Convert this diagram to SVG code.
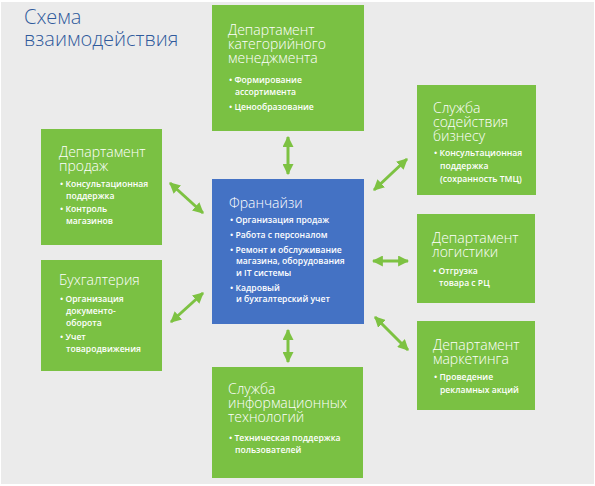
<svg xmlns="http://www.w3.org/2000/svg" width="595" height="486" viewBox="0 0 595 486">
  <defs>
    <marker id="ah" viewBox="0 0 10 10" refX="9" refY="5" markerWidth="11" markerHeight="11" markerUnits="userSpaceOnUse" orient="auto-start-reverse">
      <path d="M0,0 L10,5 L0,10 z" fill="#7dc242"/>
    </marker>
    <style>
      .g { fill: #7ac143; }
      .b { fill: #4472c4; }
      .h { font-family: "Open Sans", "Noto Sans", sans-serif; font-size: 14px; font-weight: 300; fill: #ffffff; }
      .t { font-family: "Open Sans", "Noto Sans", sans-serif; font-size: 8.6px; font-weight: 600; fill: #ffffff; }
      .title { font-family: "Open Sans", "Noto Sans", sans-serif; font-size: 20px; font-weight: 300; fill: #2f5a9c; }
      .c line { stroke: #7dc242; stroke-width: 3; marker-start: url(#ah); marker-end: url(#ah); }
    </style>
  </defs>
  <rect x="0" y="0" width="595" height="486" fill="#ffffff"/>
  <rect x="1" y="2" width="593" height="482" fill="#ebebeb"/>

  <g id="title">
    <text class="title" x="24" y="24">Схема</text>
    <text class="title" x="24" y="46">взаимодействия</text>
  </g>

  <g id="n-category">
    <rect class="g" x="212" y="5" width="152" height="126"/>
    <text class="h" x="228" y="35">Департамент</text>
    <text class="h" x="228" y="49">категорийного</text>
    <text class="h" x="228" y="63">менеджмента</text>
    <text class="t" x="229" y="83">• Формирование</text>
    <text class="t" x="235" y="95">ассортимента</text>
    <text class="t" x="229" y="110">• Ценообразование</text>
  </g>

  <g id="n-business">
    <rect class="g" x="417" y="85" width="119" height="110"/>
    <text class="h" x="433" y="113">Служба</text>
    <text class="h" x="433" y="127">содействия</text>
    <text class="h" x="433" y="141">бизнесу</text>
    <text class="t" x="434" y="156">• Консультационная</text>
    <text class="t" x="440" y="169">поддержка</text>
    <text class="t" x="440" y="182">(сохранность ТМЦ)</text>
  </g>

  <g id="n-sales">
    <rect class="g" x="41" y="129" width="121" height="116"/>
    <text class="h" x="59" y="157">Департамент</text>
    <text class="h" x="59" y="171">продаж</text>
    <text class="t" x="60" y="187">• Консультационная</text>
    <text class="t" x="66" y="199">поддержка</text>
    <text class="t" x="60" y="212">• Контроль</text>
    <text class="t" x="66" y="224">магазинов</text>
  </g>

  <g id="n-accounting">
    <rect class="g" x="41" y="260" width="121" height="111"/>
    <text class="h" x="59" y="285">Бухгалтерия</text>
    <text class="t" x="60" y="302">• Организация</text>
    <text class="t" x="66" y="314">документо-</text>
    <text class="t" x="66" y="326">оборота</text>
    <text class="t" x="60" y="340">• Учет</text>
    <text class="t" x="66" y="352">товародвижения</text>
  </g>

  <g id="n-franchise">
    <rect class="b" x="212" y="179" width="152" height="145"/>
    <text class="h" x="229" y="208">Франчайзи</text>
    <text class="t" x="230" y="223">• Организация продаж</text>
    <text class="t" x="230" y="238">• Работа с персоналом</text>
    <text class="t" x="230" y="253">• Ремонт и обслуживание</text>
    <text class="t" x="236" y="264">магазина, оборудования</text>
    <text class="t" x="236" y="276">и IT системы</text>
    <text class="t" x="230" y="291">• Кадровый</text>
    <text class="t" x="236" y="302">и бухгалтерский учет</text>
  </g>

  <g id="n-logistics">
    <rect class="g" x="417" y="214" width="118" height="89"/>
    <text class="h" x="432" y="243">Департамент</text>
    <text class="h" x="432" y="257">логистики</text>
    <text class="t" x="433" y="274">• Отгрузка</text>
    <text class="t" x="439" y="286">товара с РЦ</text>
  </g>

  <g id="n-marketing">
    <rect class="g" x="417" y="321" width="118" height="89"/>
    <text class="h" x="433" y="350">Департамент</text>
    <text class="h" x="433" y="364">маркетинга</text>
    <text class="t" x="434" y="380">• Проведение</text>
    <text class="t" x="440" y="393">рекламных акций</text>
  </g>

  <g id="n-it">
    <rect class="g" x="212" y="367" width="151" height="111"/>
    <text class="h" x="228" y="394">Служба</text>
    <text class="h" x="228" y="408">информационных</text>
    <text class="h" x="228" y="422">технологий</text>
    <text class="t" x="229" y="441">• Техническая поддержка</text>
    <text class="t" x="235" y="453">пользователей</text>
  </g>

  <g id="connectors" class="c">
    <line x1="288" y1="137" x2="288" y2="174"/>
    <line x1="288" y1="330" x2="288" y2="362"/>
    <line x1="170" y1="183" x2="203" y2="213"/>
    <line x1="171" y1="322" x2="203" y2="293"/>
    <line x1="374" y1="190" x2="407" y2="159"/>
    <line x1="373" y1="261" x2="408" y2="261"/>
    <line x1="375" y1="317" x2="408" y2="350"/>
  </g>
</svg>
